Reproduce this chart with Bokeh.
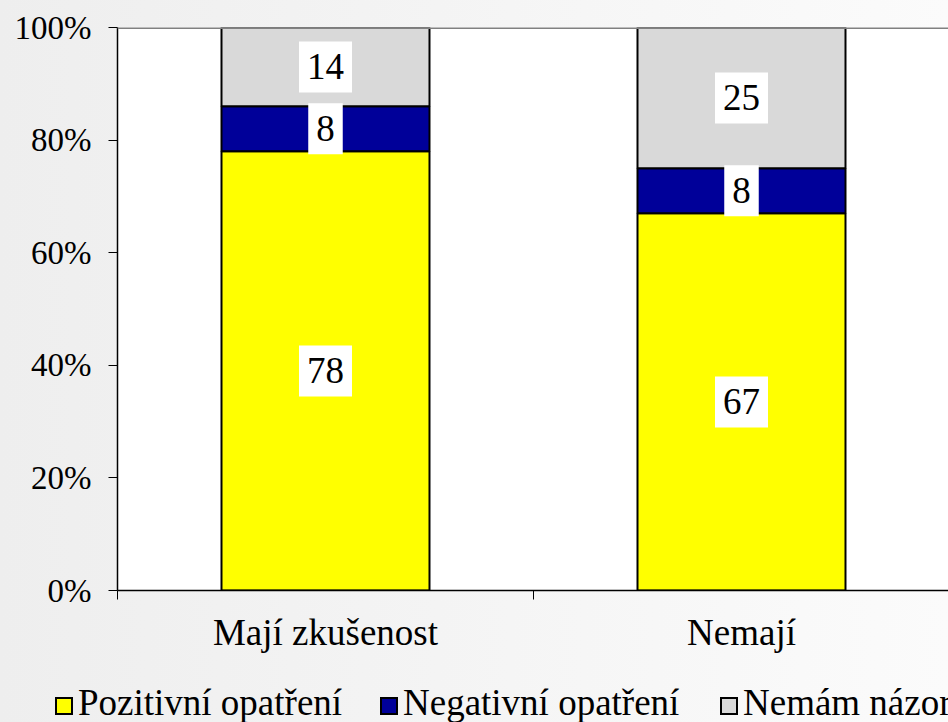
from bokeh.plotting import figure
from bokeh.models import ColumnDataSource, Range1d, FixedTicker, Span, Div
from bokeh.layouts import column
from bokeh.core.properties import value
from bokeh.embed import file_html
from bokeh.resources import INLINE

categories = ["Mají zkušenost", "Nemají"]
pozitivni = [78, 67]
negativni = [8, 8]
nemam = [14, 25]
series_names = ["Pozitivní opatření", "Negativní opatření", "Nemám názor"]
colors = ["#FFFF00", "#000099", "#D9D9D9"]
y_ticks = [0, 20, 40, 60, 80, 100]

x = [i + 0.5 for i in range(len(categories))]
b1 = pozitivni
b2 = [a + b for a, b in zip(pozitivni, negativni)]
b3 = [a + b for a, b in zip(b2, nemam)]

src = ColumnDataSource(dict(
    x=x, z=[0] * len(x), b1=b1, b2=b2, b3=b3,
    c1=[v / 2 for v in pozitivni],
    c2=[a + b / 2 for a, b in zip(b1, negativni)],
    c3=[a + b / 2 for a, b in zip(b2, nemam)],
    t1=[str(v) for v in pozitivni],
    t2=[str(v) for v in negativni],
    t3=[str(v) for v in nemam],
))

FONT = "Liberation Serif"
GRAD = "linear-gradient(to right, #eeeeee, #fbfbfb)"

p = figure(width=948, height=660, output_backend="svg", toolbar_location=None,
           x_range=Range1d(0, 1.9976), y_range=Range1d(0, 100),
           min_border_left=117, min_border_top=27, min_border_right=0,
           min_border_bottom=70)
p.background_fill_color = "white"
p.border_fill_alpha = 0
p.styles = {"background": GRAD}
p.outline_line_color = None
p.grid.visible = False

r1 = p.vbar(x="x", bottom="z", top="b1", width=0.5, source=src,
            fill_color=colors[0], line_color="black", line_width=2)
r2 = p.vbar(x="x", bottom="b1", top="b2", width=0.5, source=src,
            fill_color=colors[1], line_color="black", line_width=2)
r3 = p.vbar(x="x", bottom="b2", top="b3", width=0.5, source=src,
            fill_color=colors[2], line_color="black", line_width=2)

for ycol, tcol in [("c1", "t1"), ("c2", "t2"), ("c3", "t3")]:
    p.text(x="x", y=ycol, text=tcol, source=src,
           text_align="center", text_baseline="middle",
           text_font=value(FONT), text_font_size="37px", text_color="black",
           background_fill_color="white", padding=(8, 13))

p.add_layout(Span(location=100, dimension="width", line_color="#808080",
                  line_width=3))

# axes
p.yaxis.ticker = FixedTicker(ticks=y_ticks)
p.yaxis.major_label_overrides = {v: f"{v}%" for v in y_ticks}
p.yaxis.major_label_text_font = FONT
p.yaxis.major_label_text_font_size = "33px"
p.yaxis.major_label_text_color = "black"
p.yaxis.major_tick_out = 9
p.yaxis.major_tick_in = 0
p.yaxis.minor_tick_line_color = None
p.yaxis.axis_line_color = "black"
p.yaxis.axis_line_width = 1.5
p.yaxis.major_tick_line_color = "black"
p.yaxis.major_label_standoff = 17

p.xaxis.ticker = FixedTicker(ticks=x, minor_ticks=list(range(len(categories) + 1)))
p.xaxis.major_label_overrides = {xi: c for xi, c in zip(x, categories)}
p.xaxis.major_tick_line_color = None
p.xaxis.minor_tick_out = 9
p.xaxis.minor_tick_in = 0
p.xaxis.minor_tick_line_color = "black"
p.xaxis.axis_line_color = "black"
p.xaxis.axis_line_width = 1.5
p.xaxis.major_label_text_font = FONT
p.xaxis.major_label_text_font_size = "37px"
p.xaxis.major_label_text_color = "black"
p.xaxis.major_label_standoff = 12

# legend strip (HTML) below the chart
legend_left = [55, 380, 720]
items_html = ""
for name, col, left in zip(series_names, colors, legend_left):
    items_html += (
        f'<div style="position:absolute;left:{left}px;top:23px;display:flex;'
        f'align-items:center;white-space:nowrap;height:40px;">'
        f'<span style="display:inline-block;box-sizing:border-box;width:18px;'
        f'height:18px;background:{col};border:2px solid black;margin-top:5px;'
        f'margin-right:5px;"></span>'
        f'<span style="font-family:\'{FONT}\';font-size:37px;line-height:40px;'
        f'color:black;">{name}</span></div>'
    )
html = (f'<div style="position:relative;width:948px;height:62px;overflow:hidden;">'
        f'{items_html}</div>')
legend_div = Div(text=html, width=948, height=62,
                 styles={"background": GRAD, "margin": "0", "padding": "0"})

layout = column(p, legend_div, spacing=0)
open("out.html", "w").write(file_html(layout, INLINE))
